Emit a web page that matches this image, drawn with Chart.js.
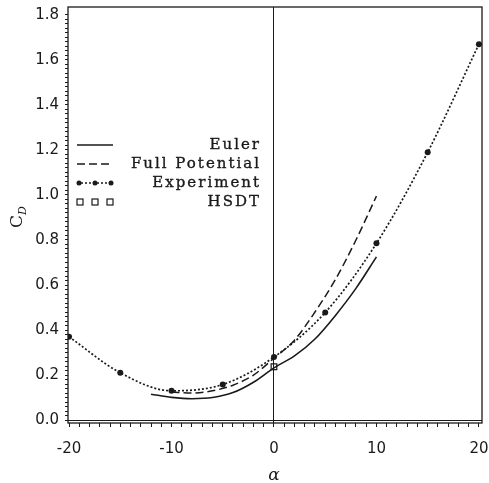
<!DOCTYPE html>
<html>
<head>
<meta charset="utf-8">
<script src="https://cdn.jsdelivr.net/npm/chart.js@4/dist/chart.umd.min.js"></script>
<style>
  html, body { margin: 0; padding: 0; background: #fff; }
  #wrap { width: 489px; height: 483px; }
</style>
</head>
<body>
<div id="wrap"><canvas id="c" width="489" height="483"></canvas></div>
<script>
// ---- data ----
const seriesLabels = ["Euler", "Full Potential", "Experiment", "HSDT"];
const eulerAlpha = [-12, -10, -8, -6, -4, -2, 0, 2, 4, 6, 8, 10];
const eulerCd    = [0.115, 0.101, 0.095, 0.1, 0.122, 0.168, 0.232, 0.285, 0.36, 0.465, 0.585, 0.725];
const fpAlpha    = [-10, -8, -6, -4, -2, 0, 2, 4, 6, 8, 10];
const fpCd       = [0.125, 0.12, 0.13, 0.155, 0.2, 0.275, 0.355, 0.48, 0.625, 0.8, 0.995];
const expAlpha   = [-20, -15, -10, -5, 0, 5, 10, 15, 20];
const expCd      = [0.37, 0.21, 0.13, 0.158, 0.28, 0.478, 0.785, 1.19, 1.67];
const hsdtAlpha  = [0];
const hsdtCd     = [0.237];
const xMajorTicks = [-20, -10, 0, 10, 20];
const yMajorTicks = [0.0, 0.2, 0.4, 0.6, 0.8, 1.0, 1.2, 1.4, 1.6, 1.8];

const pts = (xs, ys) => xs.map((x, i) => ({ x: x, y: ys[i] }));
const INK = '#1a1a1a';
const TICK_FONT = { family: 'DejaVu Sans', size: 15 };

// minor tick values built from the major tick lists
function minorTicks(majors, per) {
  const out = [];
  for (let i = 0; i < majors.length - 1; i++) {
    const a = majors[i], b = majors[i + 1];
    for (let k = 0; k < per; k++) out.push(+(a + (b - a) * k / per).toFixed(6));
  }
  out.push(majors[majors.length - 1]);
  return out;
}

const framePlugin = {
  id: 'frame',
  afterDatasetsDraw(chart) {
    const { ctx, chartArea: a } = chart;
    ctx.save();
    ctx.strokeStyle = INK;
    ctx.lineWidth = 1.3;
    ctx.strokeRect(a.left, a.top, a.right - a.left, a.bottom - a.top);
    ctx.restore();
  }
};

const legendPlugin = {
  id: 'customLegend',
  afterDraw(chart) {
    const { ctx, chartArea: a } = chart;
    const x0 = a.left + 9, x1 = a.left + 45, tx = a.left + 193;
    ctx.save();
    ctx.font = '15px "DejaVu Serif"';
    try { ctx.letterSpacing = '2px'; } catch (e) {}
    ctx.fillStyle = INK;
    ctx.strokeStyle = INK;
    ctx.textAlign = 'right';
    ctx.textBaseline = 'middle';
    chart.data.datasets.forEach((ds, i) => {
      const y = a.top + 138 + i * 19;
      ctx.strokeStyle = INK;
      ctx.fillStyle = INK;
      if (i === 0) {
        ctx.lineWidth = 1.6; ctx.setLineDash([]);
        ctx.beginPath(); ctx.moveTo(x0, y); ctx.lineTo(x1, y); ctx.stroke();
      } else if (i === 1) {
        ctx.lineWidth = 1.5; ctx.setLineDash([8, 4]);
        ctx.beginPath(); ctx.moveTo(x0, y); ctx.lineTo(x1, y); ctx.stroke();
      } else if (i === 2) {
        ctx.lineWidth = 1.3; ctx.setLineDash([2, 2]);
        ctx.beginPath(); ctx.moveTo(x0, y); ctx.lineTo(x1, y); ctx.stroke();
        ctx.setLineDash([]);
        [x0 + 2, (x0 + x1) / 2, x1 - 2].forEach(px => {
          ctx.beginPath(); ctx.arc(px, y, 2.5, 0, Math.PI * 2); ctx.fill();
        });
      } else {
        ctx.lineWidth = 1.2; ctx.setLineDash([]);
        [x0 + 3, (x0 + x1) / 2, x1 - 3].forEach(px => {
          ctx.strokeRect(px - 3, y - 3, 6, 6);
        });
      }
      ctx.setLineDash([]);
      ctx.lineWidth = 0.35;
      ctx.fillText(ds.label, tx, y);
      ctx.strokeText(ds.label, tx, y);
    });
    ctx.restore();
  }
};

const titlesPlugin = {
  id: 'axisTitles',
  afterDraw(chart) {
    const { ctx, chartArea: a } = chart;
    ctx.save();
    ctx.fillStyle = INK;
    // x title (alpha)
    ctx.font = 'italic 17px "DejaVu Serif"';
    ctx.textAlign = 'center';
    ctx.textBaseline = 'middle';
    const xs = chart.scales.x;
    ctx.fillText('α', xs.getPixelForValue(0), a.bottom + 53);
    // y title C_D
    const cy = (a.top + a.bottom) / 2 + 0;
    ctx.translate(16, cy);
    ctx.rotate(-Math.PI / 2);
    ctx.font = '17px "DejaVu Serif"';
    ctx.textAlign = 'left';
    ctx.textBaseline = 'alphabetic';
    const w = ctx.measureText('C').width;
    ctx.fillText('C', -w, 6);
    ctx.font = 'italic 11px "DejaVu Serif"';
    ctx.fillText('D', 0, 10);
    ctx.restore();
  }
};

new Chart(document.getElementById('c'), {
  type: 'scatter',
  data: {
    datasets: [
      { label: seriesLabels[0], data: pts(eulerAlpha, eulerCd), showLine: true,
        borderColor: INK, borderWidth: 1.6, pointRadius: 0, tension: 0.4, cubicInterpolationMode: 'monotone' },
      { label: seriesLabels[1], data: pts(fpAlpha, fpCd), showLine: true,
        borderColor: INK, borderWidth: 1.5, borderDash: [8, 4], pointRadius: 0, tension: 0.4, cubicInterpolationMode: 'monotone' },
      { label: seriesLabels[2], data: pts(expAlpha, expCd), showLine: true,
        borderColor: INK, borderWidth: 1.7, borderDash: [2, 2], pointRadius: 3, pointBackgroundColor: INK,
        pointBorderWidth: 0, tension: 0.4, cubicInterpolationMode: 'monotone' },
      { label: seriesLabels[3], data: pts(hsdtAlpha, hsdtCd), showLine: false,
        pointStyle: 'rect', pointRadius: 4, borderColor: INK, borderWidth: 1.2, backgroundColor: 'rgba(255,255,255,0)' }
    ]
  },
  options: {
    responsive: false,
    animation: false,
    layout: { padding: { top: 7, right: 7, left: 0, bottom: 0 } },
    plugins: { legend: { display: false }, tooltip: { enabled: false } },
    scales: {
      x: {
        type: 'linear', min: -20.1, max: 20.3,
        afterBuildTicks: s => { s.ticks = minorTicks(xMajorTicks, 10).map(v => ({ value: v })); },
        afterFit: s => { s.height = 60; s.paddingLeft = 0; s.paddingRight = 0; },
        ticks: {
          autoSkip: false, maxRotation: 0, color: INK, font: TICK_FONT, padding: 13,
          callback: v => (xMajorTicks.includes(v) ? String(v) : '')
        },
        grid: {
          drawOnChartArea: true, tickLength: 4,
          color: c => (c.tick && c.tick.value === 0 ? INK : 'rgba(0,0,0,0)'),
          tickColor: INK, lineWidth: 1
        },
        border: { display: false }
      },
      y: {
        type: 'linear', min: -0.013, max: 1.835,
        afterBuildTicks: s => { s.ticks = minorTicks(yMajorTicks, 10).map(v => ({ value: v })); },
        afterFit: s => { s.width = 68; s.paddingTop = 0; s.paddingBottom = 0; },
        ticks: {
          autoSkip: false, color: INK, font: TICK_FONT, padding: 6,
          callback: v => (yMajorTicks.some(m => Math.abs(m - v) < 1e-6) ? v.toFixed(1) : '')
        },
        grid: {
          drawOnChartArea: true, tickLength: 3,
          color: c => (c.tick && Math.abs(c.tick.value) < 1e-9 ? INK : 'rgba(0,0,0,0)'),
          tickColor: INK, lineWidth: 1
        },
        border: { display: false }
      }
    }
  },
  plugins: [framePlugin, legendPlugin, titlesPlugin]
});
</script>
</body>
</html>
